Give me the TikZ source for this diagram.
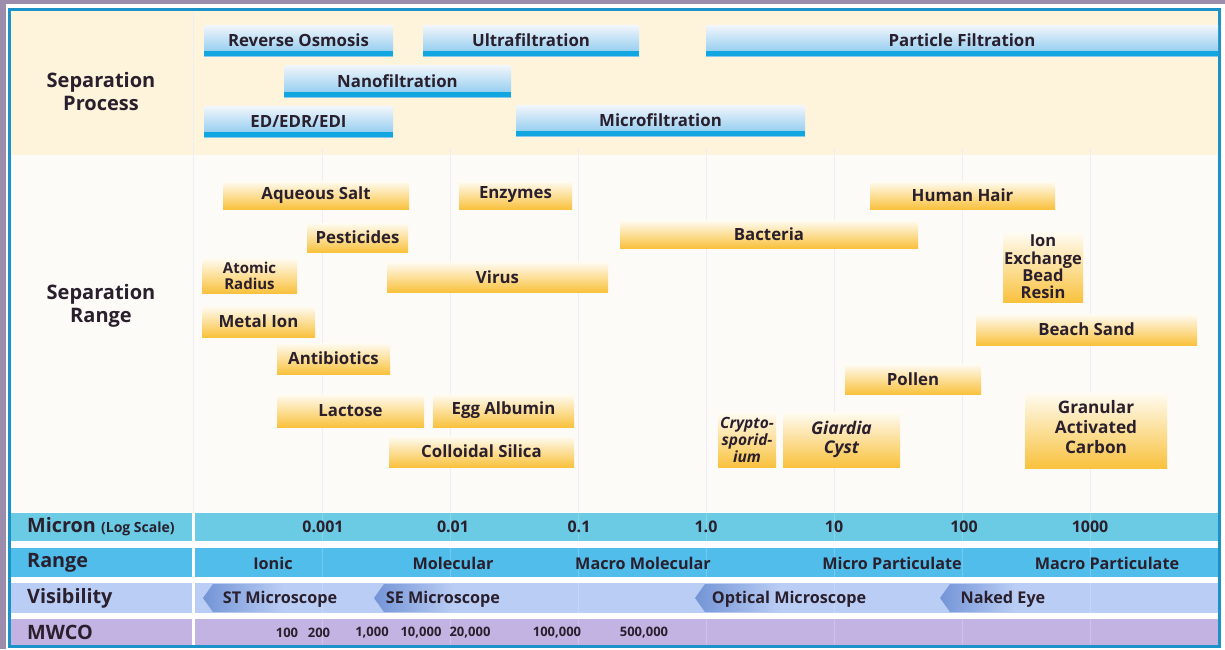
\documentclass[tikz,border=0pt]{standalone}
\usepackage{fontspec}
\setmainfont{Open Sans}
\definecolor{ink}{HTML}{2A1F2D}
\definecolor{frameGrey}{HTML}{9C8DAC}
\definecolor{frameBlue}{HTML}{1B93C8}
\definecolor{cream}{HTML}{FEF4DB}
\definecolor{rangeBg}{HTML}{FDFBF8}
\definecolor{gridc}{HTML}{EFEDF4}
\definecolor{blueTop}{HTML}{F3F6FC}
\definecolor{blueBot}{HTML}{86C8EE}
\definecolor{stripe}{HTML}{12A6E0}
\definecolor{ylTop}{HTML}{FFFCF4}
\definecolor{ylMid}{HTML}{FEEAB0}
\definecolor{ylBot}{HTML}{F9C23E}
\definecolor{micronC}{HTML}{6BCBE4}
\definecolor{rangeC}{HTML}{50BDEA}
\definecolor{visC}{HTML}{BACDF4}
\definecolor{visDark}{HTML}{7394D6}
\definecolor{mwcoC}{HTML}{C3B3E2}
\tikzset{
  txt/.style={text=ink, font=\bfseries\fontsize{16.8}{19}\selectfont, align=center, inner sep=0pt},
  bluebox/.style={txt, top color=blueTop, bottom color=blueBot, inner sep=0pt,
    path picture={\fill[stripe] ([yshift=5pt]path picture bounding box.south west) rectangle (path picture bounding box.south east);}},
  ybox/.style={txt, top color=ylTop, middle color=ylMid, bottom color=ylBot, inner sep=0pt},
  lbl/.style={text=ink, font=\bfseries\fontsize{20}{23}\selectfont, align=center, inner sep=0pt},
  rowlbl/.style={text=ink, font=\bfseries\fontsize{19.8}{22}\selectfont, anchor=west, inner sep=0pt},
  rowtxt/.style={text=ink, font=\bfseries\fontsize{16.2}{18}\selectfont, inner sep=0pt},
  numtxt/.style={text=ink, font=\bfseries\fontsize{16}{18}\selectfont, inner sep=0pt},
  mwtxt/.style={text=ink, font=\bfseries\fontsize{13}{14}\selectfont, inner sep=0pt},
}
\newcommand\BB[6]{\node[bluebox,minimum width={(#4-#2)*1pt},minimum height={(#5-#3)*1pt}] (#1) at ({(#2+#4)/2},{(#3+#5)/2}) {#6};}
\newcommand\YB[7][]{\node[ybox,minimum width={(#5-#3)*1pt},minimum height={(#6-#4)*1pt},#1] (#2) at ({(#3+#5)/2},{(#4+#6)/2}) {#7};}
\newcommand\VisArrow[2]{\shade[left color=visDark, right color=visC] (#1,598) -- (#1+10,584) -- (#1+#2,584) -- (#1+#2,612) -- (#1+10,612) -- cycle;}
\begin{document}
\begin{tikzpicture}[x=1pt,y=-1pt]
\useasboundingbox (0,0) rectangle (1225,649);
\fill[white] (0,0) rectangle (1225,649);
% frame
\fill[frameGrey] (0,0) rectangle (1225,4);
\fill[frameGrey] (0,0) rectangle (6,649);
% regions
\fill[cream] (11,11) rectangle (1218,155);
\fill[rangeBg] (11,155) rectangle (1218,512);
% grid lines
\draw[gridc, line width=1pt] (193,11) -- (193,512);
\foreach \k in {-3,...,3} {\draw[gridc, line width=1pt] ({706+128*\k},148) -- ({706+128*\k},512);}
% bottom bands
\fill[micronC] (11,513) rectangle (192,541); \fill[micronC] (195,513) rectangle (1218,541);
\fill[rangeC] (11,548) rectangle (192,577); \fill[rangeC] (195,548) rectangle (1218,577);
\fill[visC] (11,583) rectangle (192,613); \fill[visC] (195,583) rectangle (1218,613);
\fill[mwcoC] (11,619) rectangle (192,645); \fill[mwcoC] (195,619) rectangle (1218,645);
\foreach \k in {-3,...,3} {\draw[white, opacity=0.2, line width=1pt] ({706+128*\k},513) -- ({706+128*\k},645);}
\draw[frameBlue, line width=3pt] (9.5,9.5) rectangle (1219.5,646.5);
% left labels
\node[lbl] (sp) at (101,91) {Separation\\Process};
\node[lbl] (sr) at (101,306) {Separation\\Range};
\node[rowlbl] (micron) at (27,527) {Micron \fontsize{14}{16}\selectfont(Log Scale)};
\node[rowlbl] (range) at (27,563) {Range};
\node[rowlbl] (vis) at (27,598) {Visibility};
\node[rowlbl] (mwco) at (27,632) {MWCO};
% separation processes
\BB{ro}{204}{25}{393}{56}{Reverse Osmosis}
\BB{uf}{423}{25}{639}{56}{Ultrafiltration}
\BB{pf}{706}{25}{1218}{56}{Particle Filtration}
\BB{nf}{284}{65}{511}{97}{Nanofiltration}
\BB{ed}{204}{106}{393}{137}{ED/EDR/EDI}
\BB{mf}{516}{105}{805}{136}{Microfiltration}
% separation range
\YB{salt}{223}{181}{409}{209}{Aqueous Salt}
\YB{enz}{459}{181}{572}{209}{Enzymes}
\YB{hair}{870}{181}{1055}{209}{Human Hair}
\YB{bact}{620}{220}{918}{248}{Bacteria}
\YB{pest}{307}{223}{408}{252}{Pesticides}
\YB{virus}{387}{262}{608}{292}{Virus}
\YB[font=\bfseries\fontsize{15}{16}\selectfont]{atom}{202}{258}{297}{293}{Atomic\\Radius}
\YB[font=\bfseries\fontsize{16.5}{17.3}\selectfont]{ion}{1003}{232}{1083}{302}{Ion\\Exchange\\Bead\\Resin}
\YB{metal}{202}{306}{315}{337}{Metal Ion}
\YB{sand}{976}{314}{1197}{345}{Beach Sand}
\YB{anti}{277}{343}{390}{374}{Antibiotics}
\YB{pollen}{845}{364}{981}{394}{Pollen}
\YB{lact}{277}{394}{424}{427}{Lactose}
\YB{egg}{433}{394}{574}{427}{Egg Albumin}
\YB{silica}{389}{436}{574}{467}{Colloidal Silica}
\YB[font=\bfseries\itshape\fontsize{15.5}{17}\selectfont]{crypto}{718}{412}{776}{467}{Crypto-\\sporid-\\ium}
\YB[font=\bfseries\itshape\fontsize{17.5}{19}\selectfont]{giardia}{783}{412}{900}{467}{Giardia\\Cyst}
\YB{gac}{1025}{392}{1167}{468}{}
\node[txt, font=\bfseries\fontsize{17.2}{20}\selectfont] (gact) at ([yshift=3pt]gac.center) {Granular\\Activated\\Carbon};
% micron scale
\node[numtxt] (m1) at (323,527) {0.001};
\node[numtxt] (m2) at (453,527) {0.01};
\node[numtxt] (m3) at (579,527) {0.1};
\node[numtxt] (m4) at (706,527) {1.0};
\node[numtxt] (m5) at (834,527) {10};
\node[numtxt] (m6) at (964,527) {100};
\node[numtxt] (m7) at (1090,527) {1000};
% range
\node[rowtxt] (r1) at (273,563) {Ionic};
\node[rowtxt] (r2) at (453,563) {Molecular};
\node[rowtxt] (r3) at (643,563) {Macro Molecular};
\node[rowtxt] (r4) at (892,563) {Micro Particulate};
\node[rowtxt] (r5) at (1107,563) {Macro Particulate};
% visibility
\VisArrow{203}{80}
\VisArrow{374}{80}
\VisArrow{695}{85}
\VisArrow{940}{75}
\node[rowtxt] (v1) at (280,599) {ST Microscope};
\node[rowtxt] (v2) at (443,599) {SE Microscope};
\node[rowtxt] (v3) at (789,599) {Optical Microscope};
\node[rowtxt] (v4) at (1003,599) {Naked Eye};
% mwco
\node[mwtxt] (w1) at (287,633) {100};
\node[mwtxt] (w2) at (319,633) {200};
\node[mwtxt] (w3) at (372,633) {1,000};
\node[mwtxt] (w4) at (421,633) {10,000};
\node[mwtxt] (w5) at (470,633) {20,000};
\node[mwtxt] (w6) at (557,633) {100,000};
\node[mwtxt] (w7) at (644,633) {500,000};
\end{tikzpicture}
\end{document}
